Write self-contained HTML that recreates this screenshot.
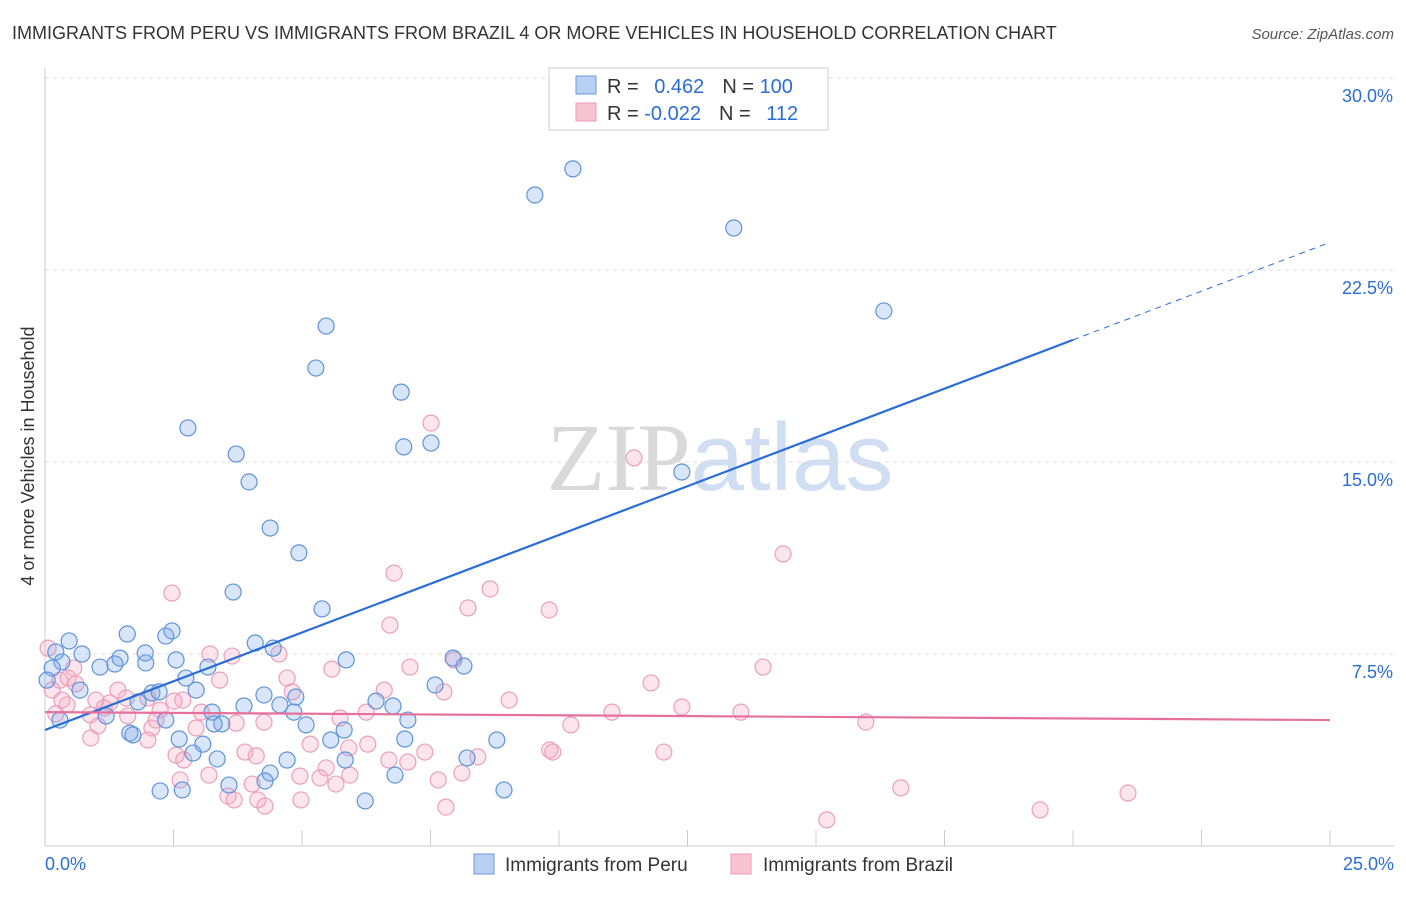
<!DOCTYPE html>
<html><head><meta charset="utf-8"><style>
body{margin:0;background:#fff;font-family:"Liberation Sans",sans-serif}
svg text{font-family:"Liberation Sans",sans-serif}
</style></head><body>
<svg id="chart" width="1406" height="892" xmlns="http://www.w3.org/2000/svg">
<text x="12" y="39" font-size="18" fill="#333">IMMIGRANTS FROM PERU VS IMMIGRANTS FROM BRAZIL 4 OR MORE VEHICLES IN HOUSEHOLD CORRELATION CHART</text>
<text x="1394" y="39" font-size="15" fill="#555" text-anchor="end" font-style="italic">Source: ZipAtlas.com</text>
<text x="720" y="490" font-size="96" text-anchor="middle" fill="#ccc" opacity="0.55"><tspan font-family="Liberation Serif" fill="#bbb">ZIP</tspan><tspan fill="#a9c4e8">atlas</tspan></text>
<g id="grid"></g>
<g id="axes"></g>
<g id="pts"></g>
<g id="trend"></g>
<text transform="translate(34,456) rotate(-90)" font-size="18" fill="#333" text-anchor="middle">4 or more Vehicles in Household</text>
<g>
<rect x="549" y="68" width="279" height="62" fill="#fff" stroke="#ccc"/>
<rect x="576" y="76" width="20" height="18" fill="#b8d0f2" stroke="#6a9ad8"/>
<rect x="576" y="103" width="20" height="18" fill="#f8c4d4" stroke="#e89ab5"/>
<text x="607" y="93" font-size="20" fill="#333">R = <tspan fill="#2a6dd6" dx="10">0.462</tspan><tspan dx="18" fill="#333">N = </tspan><tspan fill="#2a6dd6">100</tspan></text>
<text x="607" y="120" font-size="20" fill="#333">R = <tspan fill="#2a6dd6">-0.022</tspan><tspan dx="18" fill="#333">N = </tspan><tspan fill="#2a6dd6" dx="10">112</tspan></text>
</g>
<g>
<rect x="474" y="854" width="20" height="20" fill="#b8d0f2" stroke="#6a9ad8"/>
<text x="505" y="871" font-size="19" fill="#333">Immigrants from Peru</text>
<rect x="731" y="854" width="20" height="20" fill="#f8c4d4" stroke="#e89ab5"/>
<text x="763" y="871" font-size="19" fill="#333">Immigrants from Brazil</text>
</g>
</svg>
<script>
const yTicks=[7.5,15,22.5,30];
const yTickLabels=["7.5%","15.0%","22.5%","30.0%"];
const xTickVals=[2.5,5,7.5,10,12.5,15,17.5,20,22.5,25];
const peruX=[10.27,9.53,13.40,16.32,5.47,5.27,6.93,2.78,7.51,6.98,3.72,3.97,12.39,4.38,4.94,3.66,5.39,2.35,2.47,1.60,0.47,0.21,0.72,0.33,0.14,0.04,1.07,1.36,1.46,1.96,2.55,1.95,4.09,4.44,5.86,7.94,8.15,2.74,3.17,2.94,2.08,2.22,1.81,1.19,2.35,3.25,3.87,4.26,4.57,4.88,4.84,6.44,6.77,7.59,7.06,5.08,3.44,3.29,1.65,1.71,2.61,3.07,5.56,5.82,7.00,8.79,8.21,2.88,3.35,4.71,5.84,4.38,4.28,6.81,3.58,2.24,2.67,6.23,8.93,0.29,0.68];
const peruY=[26.45,25.43,24.14,20.90,20.31,18.67,17.73,16.33,15.74,15.59,15.31,14.22,14.61,12.42,11.45,9.92,9.26,8.20,8.40,8.28,8.01,7.58,7.50,7.19,6.95,6.48,6.99,7.11,7.34,7.15,7.27,7.54,7.93,7.73,7.27,7.34,7.03,6.56,6.99,6.09,5.98,6.02,5.63,5.08,4.92,5.23,5.47,5.90,5.51,5.82,5.23,5.66,5.47,6.29,4.92,4.73,4.77,4.77,4.41,4.34,4.18,3.98,4.14,4.53,4.18,4.14,3.44,3.63,3.40,3.36,3.36,2.85,2.54,2.77,2.38,2.15,2.19,1.76,2.19,4.92,6.09];
const brazilX=[7.51,11.46,14.36,6.79,2.47,8.66,8.23,9.81,6.71,3.21,3.64,4.55,5.58,7.10,7.96,11.79,13.97,7.76,6.60,9.03,4.71,4.81,3.40,2.68,1.42,1.58,0.99,0.14,0.29,0.56,0.45,2.00,2.24,3.04,2.51,1.26,1.15,0.43,0.88,2.16,1.61,11.03,10.23,12.39,13.54,15.97,5.74,6.25,4.26,3.72,2.94,2.08,1.03,2.00,0.89,6.28,5.16,5.91,7.39,8.42,9.82,12.04,9.88,3.89,4.11,2.55,2.70,6.69,7.06,5.47,8.11,3.19,2.63,5.35,4.96,5.93,7.65,5.66,4.03,3.56,4.28,4.98,4.14,3.68,7.80,16.65,21.07,19.36,15.21,0.21,0.33,0.60,0.06];
const brazilY=[16.52,15.16,11.41,10.66,9.88,10.04,9.30,9.22,8.63,7.50,7.42,7.50,6.91,6.99,7.27,6.37,6.99,6.02,6.09,5.70,6.56,6.02,6.48,5.70,6.09,5.78,5.70,6.09,6.48,6.95,6.56,5.78,5.31,5.23,5.66,5.59,5.39,5.51,5.12,4.92,5.08,5.23,4.73,5.43,5.23,4.84,5.00,5.23,4.84,4.80,4.61,4.61,4.69,4.14,4.22,3.98,3.98,3.83,3.67,3.48,3.75,3.67,3.67,3.67,3.52,3.55,3.36,3.36,3.28,3.05,2.85,2.77,2.58,2.66,2.73,2.77,2.58,2.42,2.42,1.95,1.56,1.80,1.80,1.80,1.52,2.27,2.07,1.41,1.02,5.16,5.70,6.33,7.73];
const peruTrend=[4.53,23.58];
const brazilTrend=[5.23,4.92];

const NS="http://www.w3.org/2000/svg";
const X0=45,X1=1330,Y0=846,PPU=25.6;
const sx=v=>X0+(X1-X0)*v/25;
const sy=v=>Y0-PPU*v;
function mk(tag,attrs,parent){const e=document.createElementNS(NS,tag);for(const k in attrs)e.setAttribute(k,attrs[k]);parent.appendChild(e);return e;}
const grid=document.getElementById('grid'),axes=document.getElementById('axes'),pts=document.getElementById('pts'),trend=document.getElementById('trend');
yTicks.forEach((t,i)=>{
  const l=mk('line',{x1:X0,x2:1394,y1:sy(t),y2:sy(t),stroke:'#ddd','stroke-dasharray':'4,4'},grid);
  
  
  const tx=mk('text',{x:1393,y:sy(t)+24,'font-size':18,fill:'#2a6dd6','text-anchor':'end'},grid);
  tx.textContent=yTickLabels[i];
  
  
});
const ya=mk('line',{x1:X0,x2:X0,y1:68,y2:Y0,stroke:'#ccc'},axes);


const xa=mk('line',{x1:X0,x2:1394,y1:Y0,y2:Y0,stroke:'#ccc'},axes);


xTickVals.forEach(t=>{
  const l=mk('line',{x1:sx(t),x2:sx(t),y1:Y0-16,y2:Y0,stroke:'#ccc'},axes);
  
  
});
const xl0=mk('text',{x:45,y:870,'font-size':18,fill:'#2a6dd6'},axes);xl0.textContent='0.0%';


const xl1=mk('text',{x:1394,y:870,'font-size':18,fill:'#2a6dd6','text-anchor':'end'},axes);xl1.textContent='25.0%';


brazilX.forEach((x,i)=>{
  const c=mk('circle',{cx:sx(x),cy:sy(brazilY[i]),r:8,fill:'rgba(244,170,196,0.3)',stroke:'#eb9fbb','stroke-width':1.2},pts);
  
  
});
peruX.forEach((x,i)=>{
  const c=mk('circle',{cx:sx(x),cy:sy(peruY[i]),r:8,fill:'rgba(130,170,232,0.3)',stroke:'#5f93da','stroke-width':1.2},pts);
  
  
});
const pAt=v=>peruTrend[0]+(peruTrend[1]-peruTrend[0])*v/25;
const t1=mk('line',{x1:sx(0),y1:sy(pAt(0)),x2:sx(20),y2:sy(pAt(20)),stroke:'#2a6dd6','stroke-width':2.2},trend);


const t2=mk('line',{x1:sx(20),y1:sy(pAt(20)),x2:sx(25),y2:sy(pAt(25)),stroke:'#2a6dd6','stroke-width':1,'stroke-dasharray':'6,5'},trend);


const t3=mk('line',{x1:sx(0),y1:sy(brazilTrend[0]),x2:sx(25),y2:sy(brazilTrend[1]),stroke:'#e5709b','stroke-width':2.2},trend);


</script>
</body></html>
